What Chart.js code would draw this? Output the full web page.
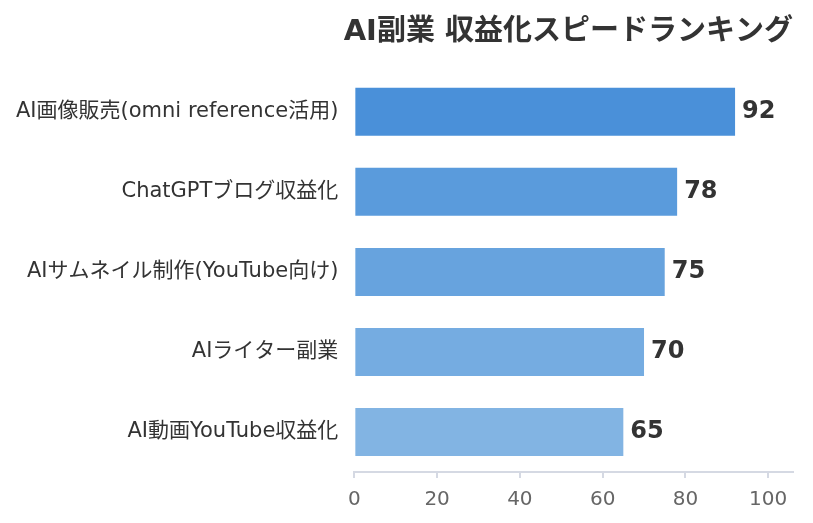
<!DOCTYPE html>
<html lang="ja">
<head>
    <meta charset="UTF-8">
    <title>AI副業 収益化スピードランキング</title>
    <script src="https://cdn.jsdelivr.net/npm/chart.js"></script>
    <style>
        html, body { margin: 0; padding: 0; background: #fff; }
        .wrap { width: 813px; height: 523px; }
    </style>
</head>
<body>
    <div class="wrap"><canvas id="rankChart"></canvas></div>
    <script>
        // latin glyphs from DejaVu, kana/kanji fall back to Noto CJK
        const FONT = "'DejaVu Sans', 'Noto Sans CJK JP', sans-serif";

        const categories = [
            'AI画像販売(omni reference活用)',
            'ChatGPTブログ収益化',
            'AIサムネイル制作(YouTube向け)',
            'AIライター副業',
            'AI動画YouTube収益化'
        ];
        const scores = [92, 78, 75, 70, 65];
        const barColors = ['#4a90d9', '#5a9bdc', '#67a3de', '#75ace1', '#82b4e3'];
        const xTicks = [0, 20, 40, 60, 80, 100];

        // value labels at the end of each bar
        const valueLabels = {
            id: 'valueLabels',
            afterDatasetsDraw(chart) {
                const ctx = chart.ctx;
                const meta = chart.getDatasetMeta(0);
                ctx.save();
                ctx.font = "bold 24px " + FONT;
                ctx.fillStyle = '#333';
                ctx.textAlign = 'left';
                ctx.textBaseline = 'middle';
                meta.data.forEach((bar, i) => {
                    ctx.fillText(String(scores[i]), bar.x + 7, bar.y);
                });
                ctx.restore();
            }
        };

        new Chart(document.getElementById('rankChart'), {
            type: 'bar',
            data: {
                labels: categories,
                datasets: [{
                    data: scores,
                    backgroundColor: barColors,
                    borderWidth: 0,
                    categoryPercentage: 0.6,
                    barPercentage: 1.0
                }]
            },
            options: {
                indexAxis: 'y',
                responsive: true,
                maintainAspectRatio: false,
                animation: false,
                layout: { padding: { left: 8, right: 20, top: 15, bottom: 1 } },
                plugins: {
                    legend: { display: false },
                    tooltip: { enabled: false },
                    title: {
                        display: true,
                        text: 'AI副業 収益化スピードランキング',
                        align: 'end',
                        color: '#333',
                        font: { family: FONT, size: 29, weight: 'bold' },
                        padding: { top: 0, bottom: 22 }
                    }
                },
                scales: {
                    x: {
                        min: 0,
                        max: 106,
                        afterBuildTicks(axis) {
                            axis.ticks = xTicks.map(v => ({ value: v }));
                        },
                        grid: {
                            drawOnChartArea: false,
                            drawTicks: true,
                            tickLength: 6,
                            color: '#d5d9e3',
                            lineWidth: 2
                        },
                        border: { display: true, color: '#d5d9e3', width: 2 },
                        ticks: {
                            color: '#666',
                            padding: 10,
                            font: { family: FONT, size: 20 }
                        }
                    },
                    y: {
                        grid: { display: false },
                        border: { display: false },
                        ticks: {
                            color: '#333',
                            padding: 8,
                            font: { family: FONT, size: 21 }
                        }
                    }
                }
            },
            plugins: [valueLabels]
        });
    </script>
</body>
</html>
